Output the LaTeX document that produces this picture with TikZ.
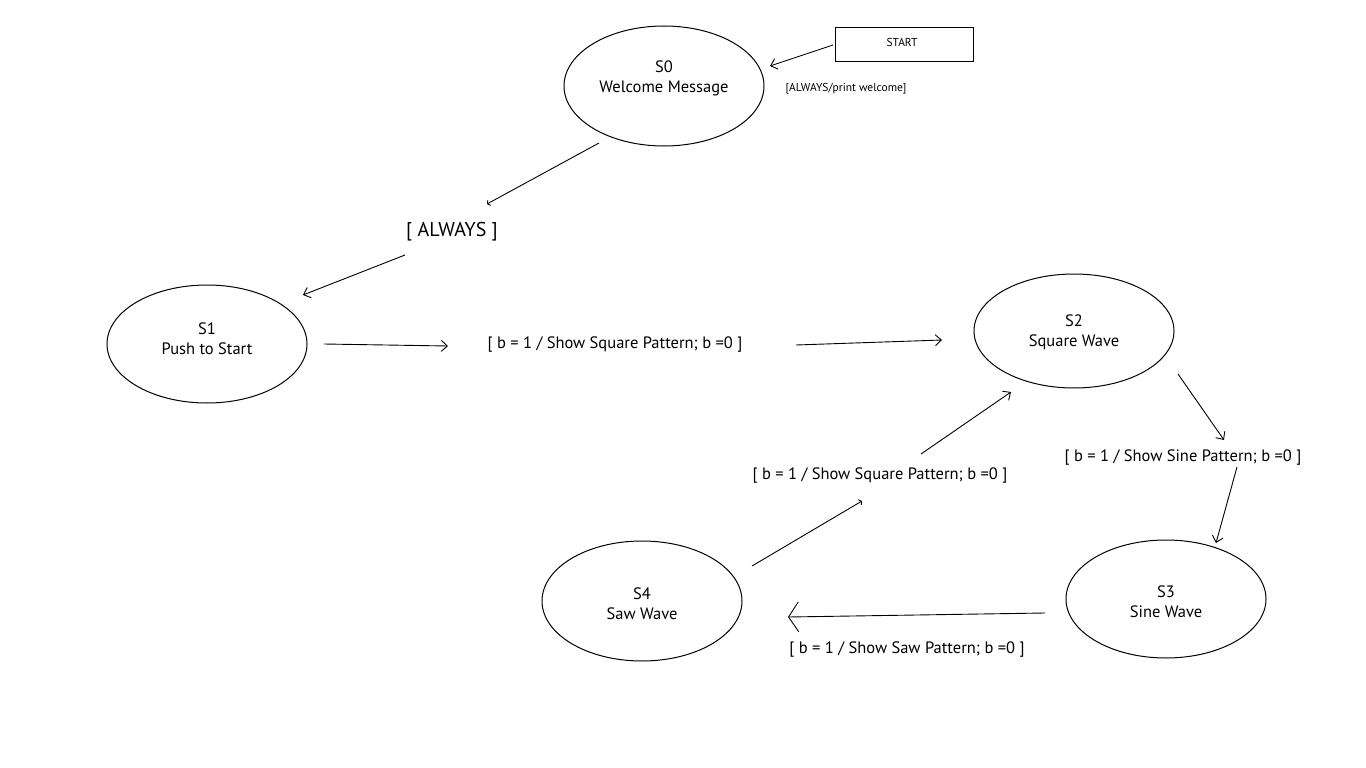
\documentclass[tikz,border=0pt]{standalone}
\usepackage{fontspec}
\setmainfont{PT Sans}
\usetikzlibrary{shapes.geometric,arrows.meta}
\begin{document}
\begin{tikzpicture}[x=1pt,y=-1pt,
  state/.style={draw,ellipse,line width=1pt,minimum width=200pt,minimum height=118pt,inner sep=0pt},
  statetext/.style={align=center,inner sep=0pt,font=\fontsize{16.5}{20}\selectfont},
  lbl/.style={inner sep=0pt,font=\fontsize{16.5}{19}\selectfont},
  small/.style={inner sep=0pt,font=\fontsize{11.5}{13}\selectfont},
  conn/.style={line width=0.9pt,-{Straight Barb[length=6pt,width=11pt,line width=0.9pt]}},
  tick/.style={line width=0.9pt,-{Straight Barb[length=2pt,width=6pt,line width=0.9pt]}},
  bigconn/.style={line width=0.9pt,-{Straight Barb[length=10pt,width=30pt,line width=0.9pt]}}]
\path[use as bounding box,fill=white] (0,0) rectangle (1366,768);

% start box
\node[draw,line width=0.9pt,minimum width=138pt,minimum height=34pt,inner sep=0pt] (start) at (904,44) {};
\node[small] (starttext) at (902,42) {START};
\node[small] (startlbl) at (846,89) {[ALWAYS/print welcome]};

% states
\node[state,minimum height=120pt] (s0) at (664,86) {};
\node[statetext] at ([yshift=8pt]s0.center) {S0\\Welcome Message};
\node[state] (s1) at (207,344) {};
\node[statetext] at ([yshift=5pt]s1.center) {S1\\Push to Start};
\node[state,minimum height=114pt] (s2) at (1074,331) {};
\node[statetext] at ([yshift=-1pt]s2.center) {S2\\Square Wave};
\node[state] (s3) at (1166,599) {};
\node[statetext] at ([yshift=-3pt]s3.center) {S3\\Sine Wave};
\node[state,minimum height=120pt] (s4) at (642,601) {};
\node[statetext] at ([yshift=-3pt]s4.center) {S4\\Saw Wave};

% labels
\node[font=\fontsize{20}{24}\selectfont,inner sep=0pt] (always) at (452,232) {[ ALWAYS ]};
\node[lbl] (l12) at (615,345) {[ b = 1 / Show Square Pattern; b =0 ]};
\node[lbl] (l23) at (1183,458) {[ b = 1 / Show Sine Pattern; b =0 ]};
\node[lbl] (l34) at (907,650) {[ b = 1 / Show Saw Pattern; b =0 ]};
\node[lbl] (l42) at (880,476) {[ b = 1 / Show Square Pattern; b =0 ]};

% connector end points
\coordinate (a1) at (833,45);   \coordinate (a2) at (770,66);
\coordinate (b1) at (599,143);  \coordinate (b2) at (487,204);
\coordinate (c1) at (405,255);  \coordinate (c2) at (303,295);
\coordinate (d1) at (324,344);  \coordinate (d2) at (448,346);
\coordinate (e1) at (796,345);  \coordinate (e2) at (942,340);
\coordinate (f1) at (1178,374); \coordinate (f2) at (1224,440);
\coordinate (g1) at (1237,467); \coordinate (g2) at (1216,543);
\coordinate (h1) at (1045,613); \coordinate (h2) at (788,617);
\coordinate (i1) at (752,566);  \coordinate (i2) at (862,501);
\coordinate (j1) at (921,454);  \coordinate (j2) at (1011,392);

\draw[conn] (a1) -- (a2);
\draw[tick] (b1) -- (b2);
\draw[conn] (c1) -- (c2);
\draw[conn] (d1) -- (d2);
\draw[conn] (e1) -- (e2);
\draw[conn] (f1) -- (f2);
\draw[conn] (g1) -- (g2);
\draw[bigconn] (h1) -- (h2);
\draw[tick] (i1) -- (i2);
\draw[conn] (j1) -- (j2);
\end{tikzpicture}
\end{document}
